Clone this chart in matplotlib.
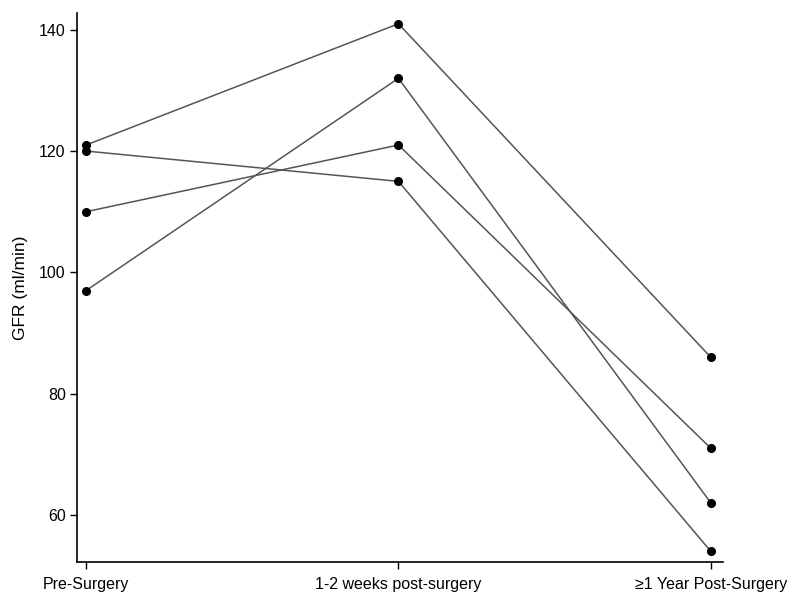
import matplotlib.pyplot as plt

plt.rcParams['font.family'] = ['Liberation Sans', 'DejaVu Sans']

timepoints = ["Pre-Surgery", "1-2 weeks post-surgery", "\u22651 Year Post-Surgery"]
patient_1 = [121, 141, 86]
patient_2 = [120, 115, 54]
patient_3 = [110, 121, 71]
patient_4 = [97, 132, 62]
patients = [patient_1, patient_2, patient_3, patient_4]

fig = plt.figure(figsize=(8.0, 6.11), dpi=100)
ax = fig.add_axes([0.096, 0.080, 0.808, 0.899])

x = list(range(len(timepoints)))
for vals in patients:
    ax.plot(x, vals, color='#555555', linewidth=1.1, zorder=2)
    ax.plot(x, vals, linestyle='none', marker='o', markersize=5.5,
            color='black', zorder=3)

ax.set_xlim(-0.03, 2.04)
ax.set_ylim(52.2, 142.8)
ax.set_xticks(x)
ax.set_xticklabels(timepoints, fontsize=11.5)
ax.set_yticks([60, 80, 100, 120, 140])
ax.tick_params(axis='y', labelsize=11.5, length=5, width=1, pad=3)
ax.tick_params(axis='x', length=5, width=1, pad=6)
ax.set_ylabel("GFR (ml/min)", fontsize=12.5, labelpad=8)

for side in ['top', 'right']:
    ax.spines[side].set_visible(False)
for side in ['left', 'bottom']:
    ax.spines[side].set_linewidth(1.2)

fig.savefig('out.png', dpi=100)
